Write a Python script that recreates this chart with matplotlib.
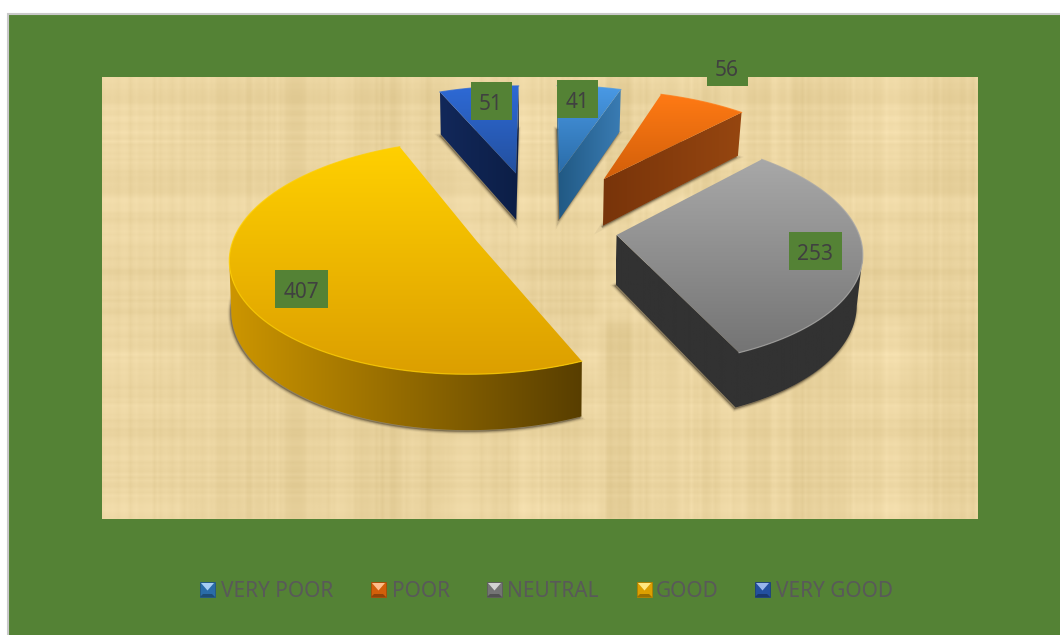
import numpy as np
import matplotlib
matplotlib.use('Agg')
import matplotlib.pyplot as plt
from matplotlib.patches import Polygon, Rectangle

# Data
categories = ['VERY POOR', 'POOR', 'NEUTRAL', 'GOOD', 'VERY GOOD']
values = [41, 56, 253, 407, 51]

# pull-out of each slice, as a share of the radius
explode = [0.54, 0.55, 0.32, 0.28, 0.54]

# label box centres and legend positions in picture pixels
label_pos = [(577, 99), (727, 67), (815, 251), (301, 289), (491, 101)]
legend_swatch_x = [200, 371, 487, 637, 755]
legend_text_x = [221, 392, 507, 656, 776]

# colours: top of face, bottom of face, side wall left, side wall right
top_hi = ['#4a9ae6', '#ff7a14', '#a8a8a8', '#ffd000', '#2e6ad6']
top_lo = ['#2a6ca8', '#d25f0a', '#747474', '#dc9f00', '#23509f']
wall_l = ['#205882', '#78340a', '#323232', '#cd9600', '#12285a']
wall_r = ['#3a7cb4', '#964610', '#323232', '#583e00', '#0c1e46']

GREEN = '#548235'
TEXT = '#404040'

# projection of the pie plane to the picture
CX, Y0 = 540, 229
S, H, G = 241, 112, 0.129


def project(u, v):
    d = 1 + G * v
    return CX + S * u / d, Y0 - H * v / d


def depth(v):
    return 49 / (1 + G * v) ** 0.85


def hex2rgb(c):
    return np.array(matplotlib.colors.to_rgb(c))


def hash_steps(n, block, seed):
    # repeatable uneven steps for the paper fibres
    idx = np.floor(np.arange(n) / block)
    h = np.sin(idx * 12.9898 + seed) * 43758.5453
    return (h - np.floor(h)) * 2 - 1


def soften(a, w):
    return np.convolve(a, np.ones(w) / w, mode='same')


fig = plt.figure(figsize=(10.6, 6.35), dpi=100)
ax = fig.add_axes([0, 0, 1, 1])
ax.axis('off')

# chart area
ax.add_patch(Rectangle((7.5, 13.5), 1070, 640, fc=GREEN, ec='#c9c9c9', lw=1.5, zorder=0))

# papyrus texture for the plot area
nx, ny = 876, 442
fine_r = soften(hash_steps(ny, 3, 1.3), 3)
fine_c = soften(hash_steps(nx, 3, 2.7), 3)
mid_r = soften(hash_steps(ny, 17, 4.1), 7)
mid_c = soften(hash_steps(nx, 23, 5.9), 7)
big_r = soften(hash_steps(ny, 61, 7.7), 15)
big_c = soften(hash_steps(nx, 83, 8.3), 15)
weave = (0.3 * fine_r[:, None] + 0.3 * fine_c[None, :]
         + 0.45 * mid_r[:, None] * (0.6 + 0.4 * big_c[None, :])
         + 0.45 * mid_c[None, :] * (0.6 + 0.4 * big_r[:, None])
         + 0.5 * big_r[:, None] * big_c[None, :])
base = np.array([235, 213, 161]) / 255
tone = np.array([10, 11, 14]) / 255
texture = np.clip(base[None, None, :] + weave[:, :, None] * tone[None, None, :], 0, 1)
ax.imshow(texture, extent=(102, 978, 519, 77), aspect='auto', zorder=1, interpolation='bilinear')

# angles of the slices, clockwise from the top
total = sum(values)
ends = np.cumsum(values) / total * 2 * np.pi
starts = np.concatenate([[0], ends[:-1]])

zz = 2
order = np.argsort([-np.cos((a + b) / 2) * e for a, b, e in zip(starts, ends, explode)])
for i in order:
    mid = (starts[i] + ends[i]) / 2
    off_u = explode[i] * np.sin(mid)
    off_v = explode[i] * np.cos(mid)
    t = np.linspace(starts[i], ends[i], 90)
    us = np.concatenate([[off_u], off_u + np.sin(t)])
    vs = np.concatenate([[off_v], off_v + np.cos(t)])
    xs, ys = project(us, vs)
    dz = depth(vs)
    xb = xs - np.where(xs > 560, 0.02, 0.006) * (xs - 560)
    yb = ys + dz
    top = np.column_stack([xs, ys])
    bottom = np.column_stack([xb, yb])

    # soft shadow under the slice
    for lw, al in [(4, 0.06), (2.5, 0.14), (1.2, 0.22)]:
        ax.add_patch(Polygon(bottom + [-1, 1.5], closed=True, fc='#3a3020', ec='#3a3020',
                             lw=lw, alpha=al, zorder=zz))
    zz += 1

    # side wall: the run of edges that face the viewer, filled with a sideways gradient
    n = len(xs)
    facing = [xs[(k + 1) % n] - xs[k] < 0 for k in range(n)]
    first = next(k for k in range(n) if not facing[k])
    runs = []
    run = []
    for s in range(1, n + 1):
        k = (first + s) % n
        if facing[k]:
            run.append(k)
        elif run:
            runs.append(run)
            run = []
    if run:
        runs.append(run)
    grad = np.linspace(0, 1, 256)[None, :, None]
    wall_img = hex2rgb(wall_l[i])[None, None, :] * (1 - grad) + hex2rgb(wall_r[i])[None, None, :] * grad
    for run in runs:
        idx = run + [(run[-1] + 1) % n]
        outline = np.vstack([top[idx], bottom[idx][::-1]])
        clip = Polygon(outline, closed=True, fc='none', ec='none', transform=ax.transData)
        ax.add_patch(clip)
        im = ax.imshow(wall_img, extent=(xs.min() - 1, xs.max() + 1, yb.max() + 1, ys.min() - 1),
                       aspect='auto', zorder=zz)
        im.set_clip_path(clip)
    zz += 1

    # top face with a vertical gradient
    grad = np.linspace(0, 1, 200)[:, None, None]
    img = hex2rgb(top_hi[i])[None, None, :] * (1 - grad) + hex2rgb(top_lo[i])[None, None, :] * grad
    clip = Polygon(top, closed=True, fc='none', ec='none', transform=ax.transData)
    ax.add_patch(clip)
    im = ax.imshow(img, extent=(xs.min(), xs.max(), ys.max(), ys.min()), aspect='auto', zorder=zz)
    im.set_clip_path(clip)
    zz += 1
    # light rim along the arc
    ax.plot(xs[1:], ys[1:], color=top_hi[i], lw=0.9, alpha=0.75, zorder=zz)
    zz += 1

# data labels
font = ['Noto Sans', 'DejaVu Sans']
for val, (lx, ly) in zip(values, label_pos):
    w = 53 if val >= 100 else 41
    ax.add_patch(Rectangle((lx - w / 2, ly - 19), w, 38, fc=GREEN, ec='none', zorder=zz))
    ax.text(lx, ly + 3, str(val), ha='center', va='center', fontsize=15, color=TEXT,
            family=font, zorder=zz + 1)

# legend
for i, name in enumerate(categories):
    sx = legend_swatch_x[i]
    sy = 582
    sw = 15
    hi = hex2rgb(top_hi[i])
    lo = hex2rgb(top_lo[i])
    ax.add_patch(Rectangle((sx, sy), sw, sw, fc=lo, ec=lo * 0.8, lw=0.6, zorder=zz))
    ax.add_patch(Polygon([(sx + 1, sy + 1), (sx + sw - 1, sy + 1), (sx + sw / 2, sy + sw / 2 + 1)],
                         closed=True, fc=hi * 0.5 + 0.5, ec='none', zorder=zz + 1))
    ax.add_patch(Polygon([(sx, sy + sw), (sx + sw, sy + sw), (sx + sw - 3, sy + sw - 3), (sx + 3, sy + sw - 3)],
                         closed=True, fc=lo * 0.7, ec='none', zorder=zz + 1))
    ax.text(legend_text_x[i], sy + 9.5, name, ha='left', va='center', fontsize=15, color='#595959',
            family=font, zorder=zz + 1)

ax.set_xlim(0, 1060)
ax.set_ylim(635, 0)
fig.savefig('out.png', dpi=100, facecolor='white')
